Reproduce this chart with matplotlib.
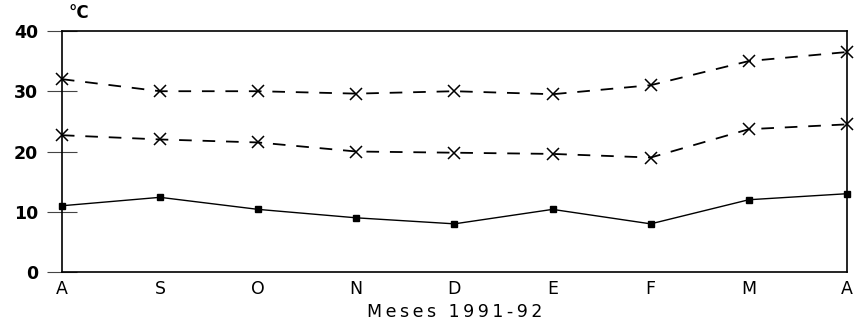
import matplotlib.pyplot as plt

months = ["A", "S", "O", "N", "D", "E", "F", "M", "A"]
temp_max = [32.0, 30.0, 30.0, 29.6, 30.0, 29.5, 31.0, 35.0, 36.5]
temp_mid = [22.7, 22.0, 21.5, 20.0, 19.8, 19.6, 19.0, 23.7, 24.5]
temp_min = [11.0, 12.4, 10.4, 9.0, 8.0, 10.4, 8.0, 12.0, 13.0]
y_ticks = [0, 10, 20, 30, 40]

plt.rcParams["font.family"] = ["DejaVu Sans"]


def spaced(s):
    # the scanned original uses a very wide typeface, imitate with thin spaces
    return "\u2009".join(s)


fig = plt.figure(figsize=(8.59, 3.29), dpi=100)
ax = fig.add_axes([0.072, 0.173, 0.914, 0.733])

x = list(range(len(months)))
ax.plot(x, temp_max, color="black", lw=1.3, ls=(0, (7, 6)),
        marker="x", ms=9, mew=1.1, clip_on=False)
ax.plot(x, temp_mid, color="black", lw=1.3, ls=(0, (7, 6)),
        marker="x", ms=9, mew=1.1, clip_on=False)
ax.plot(x, temp_min, color="black", lw=1.0, marker="s", ms=5,
        clip_on=False)

ax.set_xlim(0, len(months) - 1)
ax.set_ylim(0, 40)
ax.set_xticks(x)
ax.set_xticklabels(months, fontsize=12.5)
ax.set_yticks(y_ticks)
ax.set_yticklabels([str(v) for v in y_ticks], fontsize=12.5,
                   fontweight="bold")
ax.tick_params(axis="x", length=0, pad=6)
ax.tick_params(axis="y", length=22, width=0.8, direction="inout", pad=6,
               color="#444444")
for t in ax.yaxis.get_major_ticks():
    t.tick1line.set_linestyle((0, (2, 1)))
for s in ax.spines.values():
    s.set_linewidth(1.2)

ax.set_xlabel(spaced("Meses 1991-92"), fontsize=12.5, labelpad=3)
ax.text(0.008, 1.075, "°C", transform=ax.transAxes, fontsize=12,
        fontweight="bold", ha="left", va="center")

fig.savefig("out.png", dpi=100)
